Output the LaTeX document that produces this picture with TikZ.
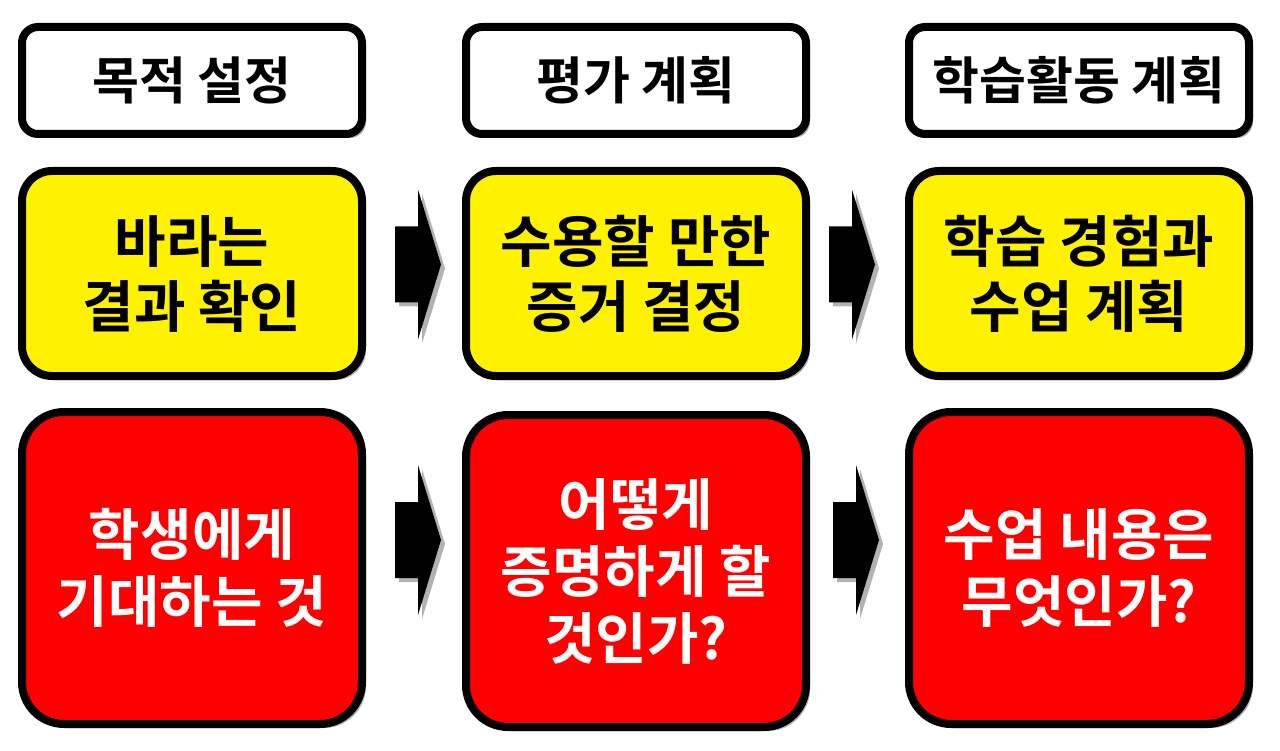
\documentclass[tikz,border=0pt]{standalone}
\usepackage{fontspec}
\newfontfamily\krfont{Noto Sans CJK KR}[BoldFont={Noto Sans CJK KR Bold}]
\usetikzlibrary{shadows}
\tikzset{
  base/.style={draw=black, line width=8pt, align=center, inner sep=0pt,
    minimum width=340pt, drop shadow={shadow xshift=4pt, shadow yshift=-4pt, fill=black, opacity=0.3}},
  titlebox/.style={base, fill=white, rounded corners=16pt, minimum height=107pt,
    font=\krfont\bfseries\fontsize{51}{60}\selectfont, text=black},
  goalbox/.style={base, fill=yellow, rounded corners=30pt, minimum height=205pt,
    font=\krfont\bfseries\fontsize{56}{65}\selectfont, text=black},
  askbox/.style={base, fill=red, rounded corners=42pt, minimum height=312pt,
    font=\krfont\bfseries\fontsize{56}{67}\selectfont, text=white},
  blockarrow/.style={fill=black, drop shadow={shadow xshift=4pt, shadow yshift=-4pt, fill=black, opacity=0.3}}
}
\begin{document}
\begin{tikzpicture}[x=1pt, y=-1pt]
\useasboundingbox[fill=white] (0,0) rectangle (1280,751);

\node[titlebox] (t1) at (192,80.5) {목적 설정};
\node[titlebox] (t2) at (636,80.5) {평가 계획};
\node[titlebox] (t3) at (1079,80.5) {학습활동 계획};

\node[goalbox] (g1) at (192,273.5) {바라는\\결과 확인};
\node[goalbox] (g2) at (636,273.5) {수용할 만한\\증거 결정};
\node[goalbox] (g3) at (1079,273.5) {학습 경험과\\수업 계획};

\node[askbox] (q1) at (192,568) {학생에게\\기대하는 것};
\node[askbox] (q2) at (636,571) {어떻게\\증명하게 할\\것인가?};
\node[askbox] (q3) at (1079,568) {수업 내용은\\무엇인가?};

\coordinate (a1) at (395,264.5);
\coordinate (a2) at (829,264.5);
\coordinate (a3) at (395,540);
\coordinate (a4) at (833,540);
\foreach \c in {a1,a2,a3,a4}{
  \fill[blockarrow] (\c) ++(0,-38) -- ++(23,0) -- ++(0,-37) -- ++(23,75) -- ++(-23,75) -- ++(0,-37) -- ++(-23,0) -- cycle;
}
\end{tikzpicture}
\end{document}
